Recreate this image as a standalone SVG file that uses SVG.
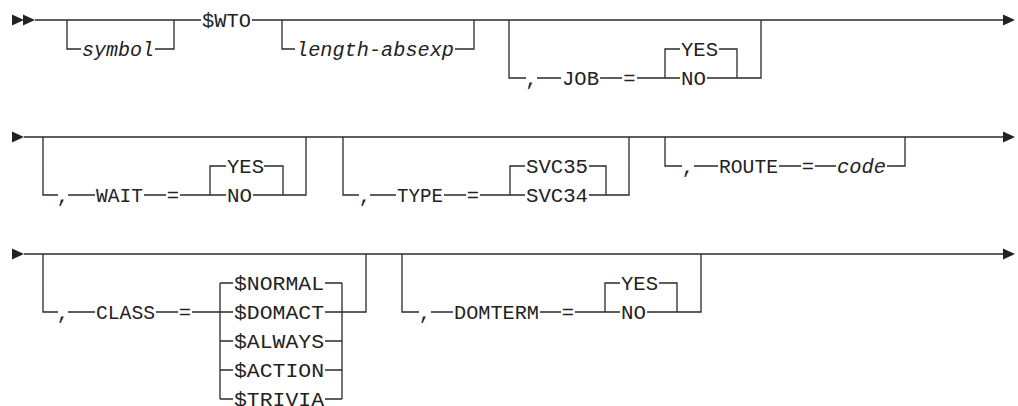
<svg xmlns="http://www.w3.org/2000/svg" xmlns:xlink="http://www.w3.org/1999/xlink" width="1018" height="406" viewBox="0 0 1018 406">
<style>
.ln{fill:none;stroke:#2a2a2a;stroke-width:1.3}
.t{font-family:"Liberation Mono","DejaVu Sans Mono",monospace;font-size:20.5px;fill:#222}
.i{font-style:italic}
.c{text-anchor:middle}
.ar{fill:#222}
</style>
<defs>
<path id="arr" d="M0 -5.5 L12 0 L0 5.5 Z"/>
</defs>
<rect width="1018" height="406" fill="#fff"/>
<g id="connectors">
<path class="ln" d="M35 20 H201 M252 20 H1003"/>
<path class="ln" d="M67 20 V49 H81 M155 49 H174 V20"/>
<path class="ln" d="M282 20 V49 H295 M455 49 H474 V20"/>
<path class="ln" d="M509 20 V78 H526 M537 78 H561 M600 78 H622 M637 78 H680 M665 78 V49 H680 M719 49 H737 V78 M707 78 H761 V20"/>
<path class="ln" d="M24 137 H1003"/>
<path class="ln" d="M43 137 V195 H58 M68 195 H95 M144 195 H166 M180 195 H226 M210 195 V166 H226 M264 166 H283 V195 M253 195 H306 V137"/>
<path class="ln" d="M343 137 V195 H359 M370 195 H396 M444 195 H466 M480 195 H525 M510 195 V166 H525 M589 166 H606 V195 M589 195 H629 V137"/>
<path class="ln" d="M665 137 V166 H682 M694 166 H718 M779 166 H801 M815 166 H836 M887 166 H905 V137"/>
<path class="ln" d="M24 254 H1003"/>
<path class="ln" d="M43 254 V312 H58 M68 312 H95 M156 312 H178 M192 312 H233 M220 283 V399 M220 283 H233 M220 341 H233 M220 370 H233 M220 399 H233 M325 283 H342 M325 312 H342 M325 341 H342 M325 370 H342 M325 399 H342 M342 283 V399 M342 312 H366 V254"/>
<path class="ln" d="M402 254 V312 H419 M431 312 H453 M540 312 H561 M575 312 H620 M605 312 V283 H620 M659 283 H677 V312 M647 312 H701 V254"/>
<use href="#arr" class="ar" x="12" y="20"/>
<use href="#arr" class="ar" x="23" y="20"/>
<use href="#arr" class="ar" x="1003" y="20"/>
<use href="#arr" class="ar" x="12" y="137"/>
<use href="#arr" class="ar" x="1003" y="137"/>
<use href="#arr" class="ar" x="12" y="254"/>
<use href="#arr" class="ar" x="1003" y="254"/>
</g>
<g id="n-symbol"><text class="t i" x="82" y="56" textLength="72" lengthAdjust="spacingAndGlyphs">symbol</text></g>
<g id="n-wto"><text class="t" x="202" y="27" textLength="49" lengthAdjust="spacingAndGlyphs">$WTO</text></g>
<g id="n-length"><text class="t i" x="296" y="56" textLength="158" lengthAdjust="spacingAndGlyphs">length-absexp</text></g>
<g id="n-job">
<text class="t c" x="531.5" y="85">,</text>
<text class="t" x="562" y="85" textLength="37" lengthAdjust="spacingAndGlyphs">JOB</text>
<text class="t c" x="629.5" y="85">=</text>
<text class="t" x="681" y="56" textLength="37" lengthAdjust="spacingAndGlyphs">YES</text>
<text class="t" x="681" y="85" textLength="25" lengthAdjust="spacingAndGlyphs">NO</text>
</g>
<g id="n-wait">
<text class="t c" x="63" y="202">,</text>
<text class="t" x="96" y="202" textLength="47" lengthAdjust="spacingAndGlyphs">WAIT</text>
<text class="t c" x="173" y="202">=</text>
<text class="t" x="227" y="173" textLength="37" lengthAdjust="spacingAndGlyphs">YES</text>
<text class="t" x="227" y="202" textLength="25" lengthAdjust="spacingAndGlyphs">NO</text>
</g>
<g id="n-type">
<text class="t c" x="365" y="202">,</text>
<text class="t" x="397" y="202" textLength="46" lengthAdjust="spacingAndGlyphs">TYPE</text>
<text class="t c" x="473" y="202">=</text>
<text class="t" x="526" y="173" textLength="62" lengthAdjust="spacingAndGlyphs">SVC35</text>
<text class="t" x="526" y="202" textLength="62" lengthAdjust="spacingAndGlyphs">SVC34</text>
</g>
<g id="n-route">
<text class="t c" x="688" y="173">,</text>
<text class="t" x="719" y="173" textLength="59" lengthAdjust="spacingAndGlyphs">ROUTE</text>
<text class="t c" x="808" y="173">=</text>
<text class="t i" x="837" y="173" textLength="49" lengthAdjust="spacingAndGlyphs">code</text>
</g>
<g id="n-class">
<text class="t c" x="63" y="319">,</text>
<text class="t" x="96" y="319" textLength="59" lengthAdjust="spacingAndGlyphs">CLASS</text>
<text class="t c" x="185" y="319">=</text>
<text class="t" x="234" y="290" textLength="90" lengthAdjust="spacingAndGlyphs">$NORMAL</text>
<text class="t" x="234" y="319" textLength="90" lengthAdjust="spacingAndGlyphs">$DOMACT</text>
<text class="t" x="234" y="348" textLength="90" lengthAdjust="spacingAndGlyphs">$ALWAYS</text>
<text class="t" x="234" y="377" textLength="90" lengthAdjust="spacingAndGlyphs">$ACTION</text>
<text class="t" x="234" y="406" textLength="90" lengthAdjust="spacingAndGlyphs">$TRIVIA</text>
</g>
<g id="n-domterm">
<text class="t c" x="425" y="319">,</text>
<text class="t" x="454" y="319" textLength="85" lengthAdjust="spacingAndGlyphs">DOMTERM</text>
<text class="t c" x="568" y="319">=</text>
<text class="t" x="621" y="290" textLength="37" lengthAdjust="spacingAndGlyphs">YES</text>
<text class="t" x="621" y="319" textLength="25" lengthAdjust="spacingAndGlyphs">NO</text>
</g>
</svg>
